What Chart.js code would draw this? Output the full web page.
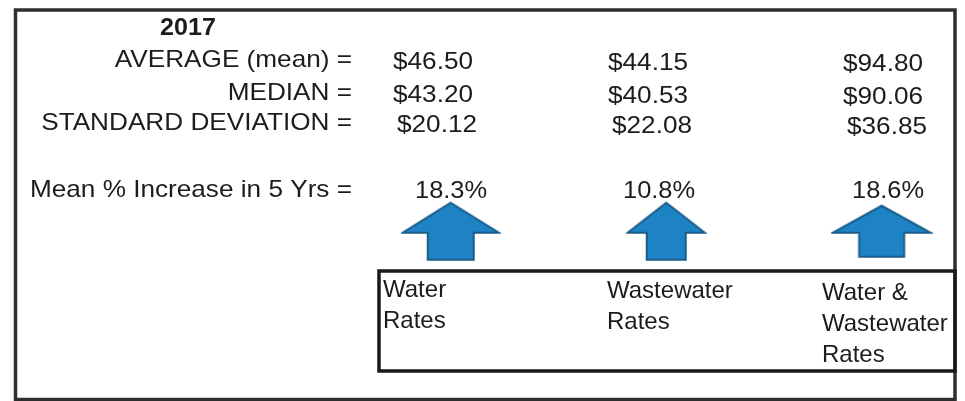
<!DOCTYPE html>
<html>
<head>
<meta charset="utf-8">
<script src="https://cdn.jsdelivr.net/npm/chart.js@4.4.1/dist/chart.umd.min.js"></script>
<style>
  html, body { margin: 0; padding: 0; background: #fff; }
  #wrap { position: relative; width: 965px; height: 401px; }
</style>
</head>
<body>
<div id="wrap"><canvas id="myChart"></canvas></div>
<script>
'use strict';

const year = '2017';
const categories = ['Water Rates', 'Wastewater Rates', 'Water & Wastewater Rates'];
const categoryLines = [['Water', 'Rates'], ['Wastewater', 'Rates'], ['Water &', 'Wastewater', 'Rates']];
const rowLabels = ['AVERAGE (mean) =', 'MEDIAN =', 'STANDARD DEVIATION =', 'Mean % Increase in 5 Yrs ='];
const average = [46.50, 44.15, 94.80];
const median = [43.20, 40.53, 90.06];
const stdDev = [20.12, 22.08, 36.85];
const increase = [18.3, 10.8, 18.6];

// layout (pixels)
const FONT = "'Liberation Sans', Arial, sans-serif";
const INK = '#1c1c1c';
const rowBase = [67, 100, 130, 197];
const colLeft = [393, 608, 843];
const colTilt = [2, 3, 4];
const pctLeft = [415, 623, 852];
const labelLeft = [383, 607, 822];
const labelBase = [297, 298, 300];
const arrowLevel = 233;
const arrowSize = [
  { head: 96, shaft: 46, headH: 30, h: 57 },
  { head: 77, shaft: 39, headH: 30, h: 57 },
  { head: 98, shaft: 45, headH: 27, h: 51 }
];

function money(v) {
  return '$' + v.toFixed(2);
}

function makeArrow(s) {
  const c = document.createElement('canvas');
  const pad = 2;
  c.width = s.head + pad * 2;
  c.height = s.h + pad * 2;
  const g = c.getContext('2d');
  const cx = c.width / 2;
  g.beginPath();
  g.moveTo(cx, pad);
  g.lineTo(pad + s.head, pad + s.headH);
  g.lineTo(cx + s.shaft / 2, pad + s.headH);
  g.lineTo(cx + s.shaft / 2, pad + s.h);
  g.lineTo(cx - s.shaft / 2, pad + s.h);
  g.lineTo(cx - s.shaft / 2, pad + s.headH);
  g.lineTo(pad, pad + s.headH);
  g.closePath();
  g.fillStyle = '#1e83c5';
  g.fill();
  g.lineWidth = 2;
  g.strokeStyle = '#1a5d8b';
  g.lineJoin = 'miter';
  g.stroke();
  return c;
}

const arrows = arrowSize.map(makeArrow);

// text drawn a little wider, like the scanned sheet
function wideText(ctx, txt, x, y, align, sx) {
  ctx.save();
  ctx.translate(x, y);
  ctx.scale(sx, 1);
  ctx.textAlign = align;
  ctx.fillText(txt, 0, 0);
  ctx.restore();
}

const sheetPlugin = {
  id: 'sheet',
  beforeDraw(chart) {
    const ctx = chart.ctx;
    ctx.save();
    ctx.fillStyle = '#fff';
    ctx.fillRect(0, 0, chart.width, chart.height);

    // outer frame
    ctx.strokeStyle = '#2e2e2e';
    ctx.lineWidth = 3.5;
    ctx.strokeRect(15.5, 10, 939.5, 389.5);

    // label box
    ctx.strokeStyle = '#1a1a1a';
    ctx.strokeRect(379, 271, 576, 100);
    ctx.restore();
  },
  afterDraw(chart) {
    const ctx = chart.ctx;
    ctx.save();
    ctx.fillStyle = INK;
    ctx.textBaseline = 'alphabetic';

    ctx.font = 'bold 23px ' + FONT;
    wideText(ctx, year, 188, 35, 'center', 1.09);

    ctx.font = '24px ' + FONT;
    for (let r = 0; r < rowLabels.length; r++) {
      wideText(ctx, rowLabels[r], 352, rowBase[r], 'right', 1.09);
    }

    const rows = [average, median, stdDev];
    for (let r = 0; r < rows.length; r++) {
      for (let i = 0; i < categories.length; i++) {
        const indent = r === 2 ? 4 : 0;
        wideText(ctx, money(rows[r][i]), colLeft[i] + indent, rowBase[r] + colTilt[i], 'left', 1.09);
      }
    }

    for (let i = 0; i < increase.length; i++) {
      wideText(ctx, increase[i].toFixed(1) + '%', pctLeft[i], rowBase[3] + 1, 'left', 1.06);
    }

    ctx.font = '24px ' + FONT;
    for (let i = 0; i < categoryLines.length; i++) {
      const lines = categoryLines[i];
      for (let j = 0; j < lines.length; j++) {
        wideText(ctx, lines[j], labelLeft[i], labelBase[i] + j * 31, 'left', 1.0);
      }
    }
    ctx.restore();
  }
};

const ctx = document.getElementById('myChart').getContext('2d');

new Chart(ctx, {
  type: 'scatter',
  data: {
    labels: categories,
    datasets: [
      {
        label: 'Mean % Increase in 5 Yrs',
        data: increase.map((v, i) => ({ x: i, y: arrowLevel })),
        pointStyle: (c) => arrows[c.dataIndex],
        pointRadius: 10,
        pointHoverRadius: 10
      }
    ]
  },
  options: {
    responsive: true,
    maintainAspectRatio: false,
    animation: false,
    layout: { padding: 0 },
    plugins: {
      legend: { display: false },
      tooltip: { enabled: false }
    },
    scales: {
      x: { type: 'linear', min: -2.0408, max: 2.3356, display: false },
      y: { type: 'linear', min: 0, max: 401, reverse: true, display: false }
    }
  },
  plugins: [sheetPlugin]
});
</script>
</body>
</html>
